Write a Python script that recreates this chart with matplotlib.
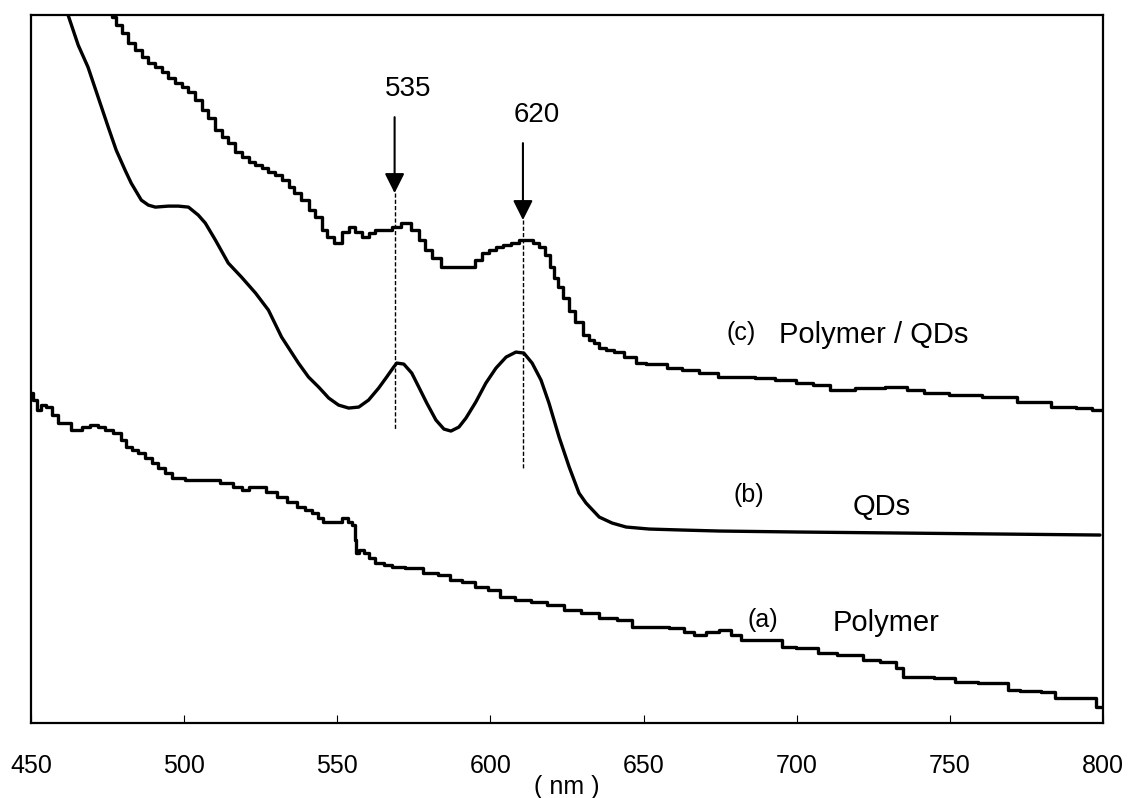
import matplotlib
matplotlib.use("Agg")
import matplotlib.pyplot as plt

plt.rcParams['font.family'] = ['Liberation Sans', 'DejaVu Sans']

# wavelength (nm) / absorbance (a.u.)

# (a) Polymer
wl_a = [450.0, 451.3, 452.3, 453.9, 455.6, 457.9, 459.8, 462.1, 463.7, 465.4,
        467.7, 470.9, 472.9, 475.2, 478.5, 480.1, 481.7, 484.0, 486.0, 488.3,
        490.6, 492.5, 494.8, 497.1, 503.6, 508.9, 514.4, 517.7, 520.0, 522.6,
        525.2, 528.5, 531.8, 535.1, 538.3, 540.6, 542.9, 544.5, 546.2, 550.4,
        552.7, 554.3, 555.3, 556.0, 556.3, 557.9, 559.3, 561.2, 563.5, 566.8,
        569.1, 575.0, 580.8, 584.8, 588.7, 593.0, 597.2, 601.1, 605.1, 610.9,
        615.8, 621.4, 626.6, 632.2, 638.7, 643.7, 648.6, 655.1, 661.6, 664.9,
        668.2, 672.4, 677.0, 680.3, 683.6, 689.4, 694.4, 696.0, 703.2, 710.7,
        715.6, 720.5, 722.8, 731.3, 733.6, 735.9, 741.8, 747.7, 755.5, 763.0,
        768.6, 769.6, 776.1, 783.7, 785.0, 790.9, 796.7, 799.0]
abs_a = [33.0, 32.3, 31.3, 31.8, 31.6, 30.8, 30.0, 30.0, 29.3, 29.3,
         29.6, 29.8, 29.6, 29.3, 29.0, 28.3, 27.6, 27.3, 27.0, 26.5,
         26.0, 25.5, 25.0, 24.5, 24.3, 24.3, 24.0, 23.6, 23.3, 23.6,
         23.6, 23.1, 22.6, 22.1, 21.6, 21.3, 21.0, 20.5, 20.1, 20.1,
         20.5, 20.1, 19.8, 18.3, 17.0, 17.3, 17.0, 16.5, 16.0, 15.8,
         15.6, 15.5, 15.0, 14.8, 14.3, 14.1, 13.6, 13.3, 12.6, 12.3,
         12.1, 11.8, 11.3, 11.0, 10.5, 10.3, 9.6, 9.6, 9.5, 9.1,
         8.8, 9.1, 9.3, 8.8, 8.3, 8.3, 8.3, 7.6, 7.5, 7.0,
         6.8, 6.8, 6.3, 6.1, 5.5, 4.6, 4.6, 4.5, 4.1, 4.0,
         4.0, 3.3, 3.2, 3.1, 2.5, 2.5, 2.5, 1.6]

# (b) QDs
wl_b = [460.8, 462.1, 465.4, 468.6, 475.2, 477.8, 480.7, 482.7, 486.0, 488.3,
        490.6, 494.8, 498.1, 501.4, 504.6, 506.9, 510.2, 514.4, 518.7, 523.3,
        527.5, 531.8, 537.3, 540.6, 543.9, 547.2, 550.4, 553.7, 557.0, 560.2,
        563.5, 566.1, 568.4, 569.4, 571.7, 574.3, 576.6, 579.2, 582.2, 584.8,
        587.1, 589.7, 592.0, 595.2, 598.5, 601.8, 605.1, 608.3, 610.9, 613.6,
        616.5, 619.1, 622.4, 625.7, 628.9, 631.2, 635.5, 639.7, 644.3, 651.8,
        662.6, 674.7, 700.9, 733.6, 766.3, 799.0]
abs_b = [72.8, 70.8, 67.8, 65.6, 59.6, 57.3, 55.3, 54.0, 52.3, 51.8,
         51.6, 51.7, 51.7, 51.6, 50.8, 50.0, 48.3, 46.0, 44.6, 43.0,
         41.3, 38.6, 36.0, 34.6, 33.6, 32.5, 31.8, 31.5, 31.6, 32.3,
         33.5, 34.6, 35.6, 36.0, 35.9, 35.0, 33.6, 32.0, 30.3, 29.4,
         29.2, 29.6, 30.5, 32.1, 34.0, 35.5, 36.6, 37.1, 37.0, 36.0,
         34.3, 32.0, 28.6, 25.6, 23.0, 22.0, 20.6, 20.0, 19.6, 19.4,
         19.3, 19.2, 19.1, 19.0, 18.9, 18.8]

# (c) Polymer / QDs
wl_c = [475.8, 476.8, 478.5, 480.7, 482.7, 485.0, 487.3, 489.3, 491.5, 493.8, 495.8,
        498.1, 500.4, 502.3, 504.6, 506.9, 508.9, 511.2, 513.5, 515.4, 517.7,
        520.0, 522.0, 524.3, 526.5, 528.5, 530.8, 533.1, 535.1, 536.7, 539.6,
        541.6, 543.9, 546.2, 547.2, 550.4, 552.7, 554.7, 557.0, 559.3, 561.2,
        563.5, 566.8, 569.1, 572.3, 575.6, 577.6, 579.9, 582.2, 585.4, 589.7,
        593.9, 596.2, 598.5, 600.5, 602.8, 605.4, 608.3, 610.3, 612.6, 614.9,
        616.8, 618.5, 620.1, 621.4, 622.4, 624.7, 626.6, 628.9, 631.2, 633.2,
        634.5, 636.5, 638.7, 642.0, 645.3, 649.5, 651.8, 655.1, 660.0, 664.9,
        671.5, 677.0, 682.9, 690.1, 696.0, 703.2, 707.4, 714.0, 723.8, 733.6,
        738.5, 744.4, 754.9, 766.3, 777.8, 788.2, 794.1, 799.0]
abs_c = [71.8, 70.6, 69.8, 69.0, 68.0, 67.3, 66.6, 66.0, 65.6, 65.1, 64.5,
         64.0, 63.6, 63.1, 62.3, 61.3, 60.5, 59.3, 58.6, 58.0, 57.1,
         56.6, 56.1, 55.8, 55.5, 55.1, 54.8, 54.3, 53.6, 53.0, 52.3,
         51.3, 50.6, 49.3, 48.6, 48.0, 49.1, 49.6, 49.1, 48.6, 49.0,
         49.3, 49.3, 49.6, 50.0, 49.3, 48.3, 47.3, 46.5, 45.6, 45.6,
         45.6, 46.3, 47.0, 47.3, 47.6, 47.8, 48.0, 48.3, 48.3, 48.0,
         47.6, 46.8, 45.6, 44.5, 43.6, 42.5, 41.2, 40.1, 38.8, 38.3,
         38.0, 37.5, 37.3, 37.1, 36.6, 36.0, 35.9, 35.9, 35.5, 35.3,
         35.0, 34.6, 34.6, 34.5, 34.3, 34.0, 33.8, 33.3, 33.5, 33.6,
         33.3, 33.0, 32.8, 32.6, 32.1, 31.6, 31.5, 31.3]

# peak markers: label, x position, arrow top, arrow tip, dashed line bottom
peak_labels = ["535", "620"]
peak_x = [568.7, 610.6]
arrow_top = [60.6, 58.0]
arrow_tip = [53.0, 50.3]
dash_bottom = [29.3, 25.5]

xticks = [450, 500, 550, 600, 650, 700, 750, 800]


def main():
    fig = plt.figure(figsize=(11.29, 7.98), dpi=100)
    ax = fig.add_axes([0.0275, 0.094, 0.9495, 0.887])

    ax.plot(wl_a, abs_a, color='black', lw=2.4, drawstyle='steps-mid')
    ax.plot(wl_b, abs_b, color='black', lw=2.4, solid_joinstyle='round',
            solid_capstyle='round')
    ax.plot(wl_c, abs_c, color='black', lw=2.4, drawstyle='steps-mid')

    for lab, x, top, tip, bot in zip(peak_labels, peak_x, arrow_top, arrow_tip, dash_bottom):
        ax.annotate("", xy=(x, tip), xytext=(x, top),
                    arrowprops=dict(arrowstyle='-|>', color='black', lw=1.5,
                                    mutation_scale=30, shrinkA=0, shrinkB=0))
        ax.plot([x, x], [tip, bot], color='black', lw=1.0, ls=(0, (3, 1.5)))
        ax.text(x + 4.5, top + 2.8, lab, fontsize=20, ha='center', va='center')

    ax.text(681.9, 39.0, "(c)", fontsize=18, ha='center', va='center')
    ax.text(694.3, 38.8, "Polymer / QDs", fontsize=21, ha='left', va='center')
    ax.text(684.2, 22.8, "(b)", fontsize=18, ha='center', va='center')
    ax.text(727.7, 21.6, "QDs", fontsize=21, ha='center', va='center')
    ax.text(688.8, 10.3, "(a)", fontsize=18, ha='center', va='center')
    ax.text(711.7, 10.0, "Polymer", fontsize=21, ha='left', va='center')

    ax.set_xlim(450, 800)
    ax.set_ylim(0, 70.8)
    ax.set_xticks(xticks)
    ax.set_yticks([])
    ax.tick_params(axis='x', direction='in', length=6, width=0.8, pad=22, labelsize=18)
    ax.set_xlabel("( nm )", fontsize=18, labelpad=-2)
    for s in ax.spines.values():
        s.set_linewidth(1.6)

    fig.savefig("out.png", dpi=100)


if __name__ == "__main__":
    main()
